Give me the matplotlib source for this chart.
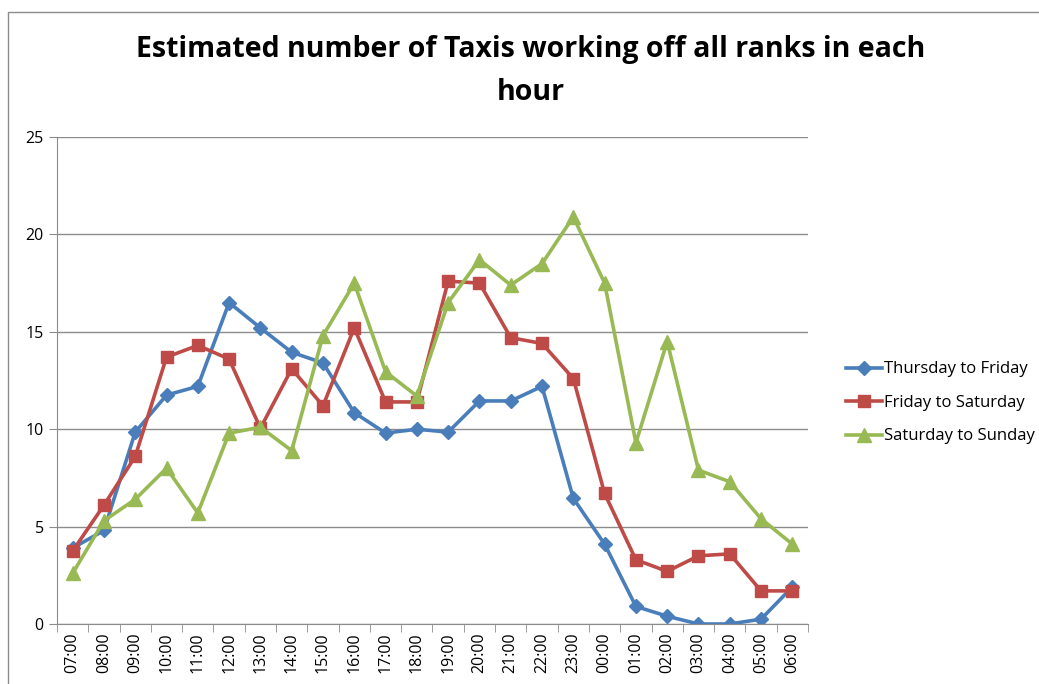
import numpy as np
import matplotlib.pyplot as plt
from matplotlib.patches import Rectangle

hours = ['07:00', '08:00', '09:00', '10:00', '11:00', '12:00', '13:00', '14:00',
         '15:00', '16:00', '17:00', '18:00', '19:00', '20:00', '21:00', '22:00',
         '23:00', '00:00', '01:00', '02:00', '03:00', '04:00', '05:00', '06:00']

thu_fri = [3.9, 4.8, 9.85, 11.75, 12.2, 16.5, 15.2, 13.95, 13.4, 10.85, 9.8, 10.0,
           9.85, 11.45, 11.45, 12.2, 6.45, 4.1, 0.9, 0.4, 0.0, 0.0, 0.25, 1.9]
fri_sat = [3.75, 6.1, 8.6, 13.7, 14.3, 13.6, 10.05, 13.1, 11.2, 15.2, 11.4, 11.4,
           17.6, 17.5, 14.7, 14.4, 12.6, 6.7, 3.3, 2.7, 3.5, 3.6, 1.7, 1.7]
sat_sun = [2.6, 5.3, 6.4, 8.0, 5.7, 9.8, 10.1, 8.9, 14.8, 17.5, 12.95, 11.7,
           16.5, 18.7, 17.4, 18.5, 20.9, 17.5, 9.3, 14.5, 7.9, 7.3, 5.4, 4.1]

plt.rcParams['font.family'] = ['Open Sans', 'DejaVu Sans']

fig = plt.figure(figsize=(10.39, 6.84), dpi=100)
ax = fig.add_axes([57/1039, 1 - 624/684, (808-57)/1039, (624-137)/684])

x = np.arange(len(hours))
ax.plot(x, thu_fri, color='#4A7EBB', lw=2.6, marker='D', ms=7, label='Thursday to Friday')
ax.plot(x, fri_sat, color='#BE4B48', lw=2.6, marker='s', ms=9, label='Friday to Saturday')
ax.plot(x, sat_sun, color='#98B954', lw=2.6, marker='^', ms=10, label='Saturday to Sunday')

ax.set_xlim(-0.5, len(hours) - 0.5)
ax.set_ylim(0, 25)
ax.set_yticks([0, 5, 10, 15, 20, 25])
ax.yaxis.grid(True, color='#8C8C8C', lw=1)
ax.set_axisbelow(True)

ax.set_xticks(x)
ax.set_xticklabels(hours, rotation=90, fontsize=11.5)
ax.tick_params(axis='x', which='major', length=0, pad=6)
ax.set_xticks(np.arange(-0.5, len(hours)), minor=True)
ax.tick_params(axis='x', which='minor', length=6, color='#8C8C8C', direction='out')
ax.tick_params(axis='y', length=6, color='#8C8C8C', labelsize=11.5)

for s in ['top', 'right']:
    ax.spines[s].set_visible(False)
for s in ['left', 'bottom']:
    ax.spines[s].set_color('#8C8C8C')

fig.text(0.511, 1 - 50/684, 'Estimated number of Taxis working off all ranks in each',
         ha='center', va='center', fontsize=20.5, fontweight='bold')
fig.text(0.511, 1 - 93/684, 'hour', ha='center', va='center', fontsize=20.5, fontweight='bold')

ax.legend(loc='center left', bbox_to_anchor=(1.03, 0.454), frameon=False,
          fontsize=12, handlelength=2.2, handletextpad=0.1, labelspacing=1.05)

fig.patches.append(Rectangle((8/1039, -0.1), 1.2, 1 - 12/684 + 0.1, transform=fig.transFigure,
                             fill=False, edgecolor='#8C8C8C', lw=1))

fig.savefig('out.png', dpi=100)
